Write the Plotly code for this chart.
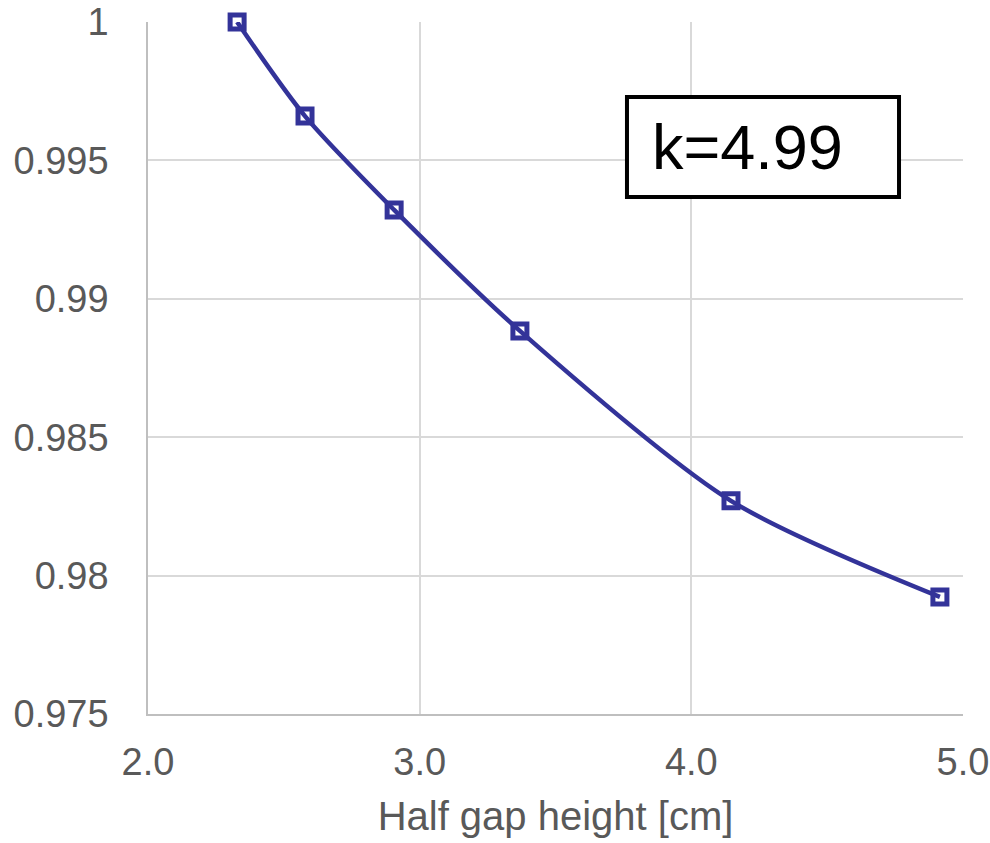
import plotly.graph_objects as go

half_gap_cm = [2.328, 2.578, 2.906, 3.369, 4.146, 4.915]
ratio = [1.0, 0.99660, 0.99321, 0.98884, 0.98270, 0.97923]

x_ticks = [2.0, 3.0, 4.0, 5.0]
x_tick_text = ["2.0", "3.0", "4.0", "5.0"]
y_ticks = [0.975, 0.98, 0.985, 0.99, 0.995, 1.0]
y_tick_text = ["0.975", "0.98", "0.985", "0.99", "0.995", "1"]
label_text = "k=4.99"
x_title = "Half gap height [cm]"

color = "#333399"
font = "Liberation Sans, Arial, sans-serif"

fig = go.Figure()
fig.add_trace(go.Scatter(
    x=half_gap_cm, y=ratio, mode="lines+markers",
    line=dict(color=color, width=4.5, shape="spline", smoothing=0.8),
    marker=dict(symbol="square-open", size=14, color=color, line=dict(width=5, color=color)),
    showlegend=False, cliponaxis=False,
))

fig.add_shape(type="rect", xref="paper", yref="paper",
              x0=0.5877, x1=0.9215, y0=0.7471, y1=0.8916,
              line=dict(color="black", width=4), fillcolor="white", layer="above")
fig.add_annotation(xref="paper", yref="paper", x=0.6155, y=0.8194,
                   xanchor="left", yanchor="middle", text=label_text, showarrow=False,
                   font=dict(family=font, size=63, color="black"))

fig.update_layout(
    width=990, height=843,
    margin=dict(l=148, r=27, t=22, b=129),
    paper_bgcolor="white", plot_bgcolor="white",
    font=dict(family=font, size=38, color="#595959"),
    xaxis=dict(range=[2.0, 5.0], tickvals=x_ticks, ticktext=x_tick_text,
               showgrid=True, gridcolor="#d9d9d9", gridwidth=1.5,
               showline=True, linecolor="#bfbfbf", linewidth=1.5,
               zeroline=False, ticks="", ticklabelstandoff=14, automargin=False,
               title=dict(text=x_title, font=dict(size=40, color="#595959"), standoff=20)),
    yaxis=dict(range=[0.975, 1.0], tickvals=y_ticks, ticktext=y_tick_text,
               showgrid=True, gridcolor="#d9d9d9", gridwidth=1.5,
               showline=True, linecolor="#bfbfbf", linewidth=1.5,
               zeroline=False, ticks="", ticklabelstandoff=30, automargin=False),
)

fig.write_html("out.html", config={"displayModeBar": False},
               post_script="document.body.style.margin='0px';document.body.style.overflow='hidden';")
